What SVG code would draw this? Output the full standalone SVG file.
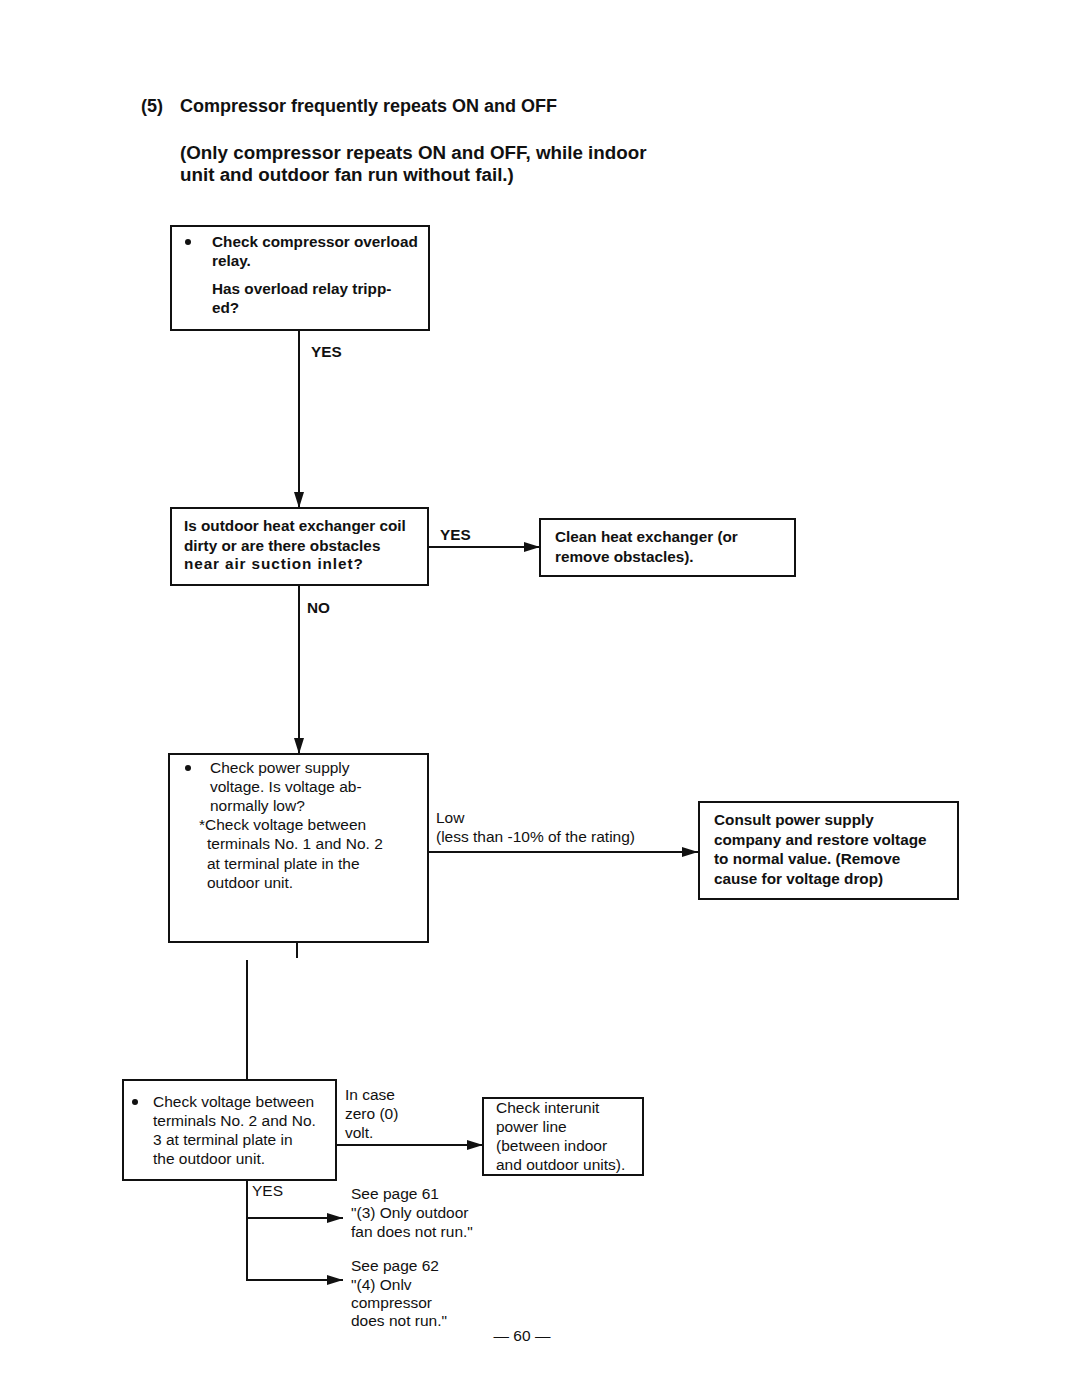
<svg xmlns="http://www.w3.org/2000/svg" width="1080" height="1397" viewBox="0 0 1080 1397">
<style>
.b{fill:#fff;stroke:#111;stroke-width:2}
.t{font-family:"Liberation Sans",Arial,sans-serif;fill:#111;font-size:15.5px}
.bd{font-weight:bold;font-size:15.3px}
.h{font-family:"Liberation Sans",Arial,sans-serif;fill:#111;font-weight:bold}
.c{fill:none;stroke:#111;stroke-width:2}
</style>
<defs>
<marker id="ah" viewBox="0 0 16 10" refX="16" refY="5" markerWidth="16" markerHeight="10" markerUnits="userSpaceOnUse" orient="auto">
<path d="M0,0 L16,5 L0,10 Z" fill="#111"/>
</marker>
</defs>
<rect width="1080" height="1397" fill="#fff"/>
<g id="title">
<text class="h" x="141" y="112" font-size="18">(5)</text>
<text class="h" x="180" y="112" font-size="18">Compressor frequently repeats ON and OFF</text>
<text class="h" x="180" y="159" font-size="18.8">(Only compressor repeats ON and OFF, while indoor</text>
<text class="h" x="180" y="181" font-size="18.8">unit and outdoor fan run without fail.)</text>
</g>
<g id="connectors">
<path class="c" d="M299,330 V508" marker-end="url(#ah)"/>
<path class="c" d="M428,547 H540" marker-end="url(#ah)"/>
<path class="c" d="M299,585 V754" marker-end="url(#ah)"/>
<path class="c" d="M428,852 H698" marker-end="url(#ah)"/>
<path class="c" d="M297,942 V958"/>
<path class="c" d="M247,960 V1080"/>
<path class="c" d="M336,1145 H483" marker-end="url(#ah)"/>
<path class="c" d="M247,1180 V1280 H343" marker-end="url(#ah)"/>
<path class="c" d="M247,1218 H343" marker-end="url(#ah)"/>
<text class="t bd" x="311" y="357">YES</text>
<text class="t bd" x="440" y="540">YES</text>
<text class="t bd" x="307" y="613">NO</text>
<text class="t" x="436" y="823">Low</text>
<text class="t" x="436" y="842">(less than -10% of the rating)</text>
<text class="t" x="345" y="1100">In case</text>
<text class="t" x="345" y="1119">zero (0)</text>
<text class="t" x="345" y="1138">volt.</text>
<text class="t" x="252" y="1196" font-size="14">YES</text>
</g>
<g id="n1">
<rect class="b" x="171" y="226" width="258" height="104"/>
<circle cx="188" cy="242" r="3" fill="#111"/>
<text class="t bd" x="212" y="247">Check compressor overload</text>
<text class="t bd" x="212" y="266">relay.</text>
<text class="t bd" x="212" y="294">Has overload relay tripp-</text>
<text class="t bd" x="212" y="313">ed?</text>
</g>
<g id="n2">
<rect class="b" x="171" y="508" width="257" height="77"/>
<text class="t bd" x="184" y="531">Is outdoor heat exchanger coil</text>
<text class="t bd" x="184" y="551">dirty or are there obstacles</text>
<text class="t bd" x="184" y="569" font-size="13" letter-spacing="0.9">near air suction inlet?</text>
</g>
<g id="n3">
<rect class="b" x="540" y="519" width="255" height="57"/>
<text class="t bd" x="555" y="542">Clean heat exchanger (or</text>
<text class="t bd" x="555" y="562">remove obstacles).</text>
</g>
<g id="n4">
<rect class="b" x="169" y="754" width="259" height="188"/>
<circle cx="188" cy="768" r="3" fill="#111"/>
<text class="t" x="210" y="773">Check power supply</text>
<text class="t" x="210" y="792">voltage. Is voltage ab-</text>
<text class="t" x="210" y="811">normally low?</text>
<text class="t" x="199" y="830">*Check voltage between</text>
<text class="t" x="207" y="849">terminals No. 1 and No. 2</text>
<text class="t" x="207" y="869">at terminal plate in the</text>
<text class="t" x="207" y="888">outdoor unit.</text>
</g>
<g id="n5">
<rect class="b" x="699" y="802" width="259" height="97"/>
<text class="t bd" x="714" y="825">Consult power supply</text>
<text class="t bd" x="714" y="845">company and restore voltage</text>
<text class="t bd" x="714" y="864">to normal value. (Remove</text>
<text class="t bd" x="714" y="884">cause for voltage drop)</text>
</g>
<g id="n6">
<rect class="b" x="123" y="1080" width="213" height="100"/>
<circle cx="135" cy="1102" r="3" fill="#111"/>
<text class="t" x="153" y="1107">Check voltage between</text>
<text class="t" x="153" y="1126">terminals No. 2 and No.</text>
<text class="t" x="153" y="1145">3 at terminal plate in</text>
<text class="t" x="153" y="1164">the outdoor unit.</text>
</g>
<g id="n7">
<rect class="b" x="483" y="1098" width="160" height="77"/>
<text class="t" x="496" y="1113">Check interunit</text>
<text class="t" x="496" y="1132">power line</text>
<text class="t" x="496" y="1151">(between indoor</text>
<text class="t" x="496" y="1170">and outdoor units).</text>
</g>
<g id="n8">
<text class="t" x="351" y="1199">See page 61</text>
<text class="t" x="351" y="1218">"(3) Only outdoor</text>
<text class="t" x="351" y="1237">fan does not run."</text>
</g>
<g id="n9">
<text class="t" x="351" y="1271">See page 62</text>
<text class="t" x="351" y="1290">"(4) Onlv</text>
<text class="t" x="351" y="1308">compressor</text>
<text class="t" x="351" y="1326">does not run."</text>
</g>
<text class="t" x="522" y="1341" text-anchor="middle">— 60 —</text>
</svg>
